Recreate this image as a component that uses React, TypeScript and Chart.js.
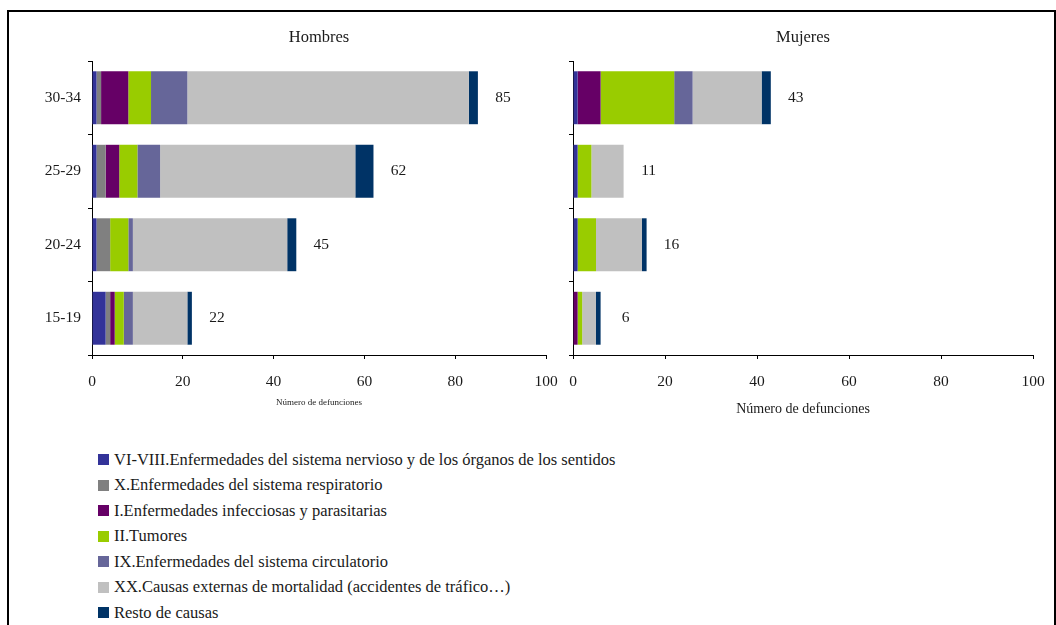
import React, { useEffect, useRef } from 'react';
import { Chart, registerables } from 'chart.js';

Chart.register(...registerables);

const ageGroups = ['30-34', '25-29', '20-24', '15-19'];

const causeLabels = [
  'VI-VIII.Enfermedades del sistema nervioso y de los órganos de los sentidos',
  'X.Enfermedades del sistema respiratorio',
  'I.Enfermedades infecciosas y parasitarias',
  'II.Tumores',
  'IX.Enfermedades del sistema circulatorio',
  'XX.Causas externas de mortalidad (accidentes de tráfico…)',
  'Resto de causas',
];

const causeColors = ['#333399', '#808080', '#660066', '#99CC00', '#666699', '#C0C0C0', '#003366'];

// Hombres (order: 30-34, 25-29, 20-24, 15-19)
const menNervous = [1, 1, 1, 3];
const menRespiratory = [1, 2, 3, 1];
const menInfectious = [6, 3, 0, 1];
const menTumors = [5, 4, 4, 2];
const menCirculatory = [8, 5, 1, 2];
const menExternal = [62, 43, 34, 12];
const menOther = [2, 4, 2, 1];

// Mujeres
const womenNervous = [1, 1, 1, 0];
const womenRespiratory = [0, 0, 0, 0];
const womenInfectious = [5, 0, 0, 1];
const womenTumors = [16, 3, 4, 1];
const womenCirculatory = [4, 0, 0, 0];
const womenExternal = [15, 7, 10, 3];
const womenOther = [2, 0, 1, 1];

const xMin = 0;
const xMax = 100;
const xStep = 20;

const menSeries = [menNervous, menRespiratory, menInfectious, menTumors, menCirculatory, menExternal, menOther];
const womenSeries = [womenNervous, womenRespiratory, womenInfectious, womenTumors, womenCirculatory, womenExternal, womenOther];

const FONT = '"Liberation Serif", "Times New Roman", serif';
const TEXT = '#1a1a1a';

type PanelOpts = {
  title: string;
  series: number[][];
  showYLabels: boolean;
  yWidth: number;
  rightPad: number;
  axisTitleSize: number;
  axisTitlePad: number;
  titleY: number;
};

function makeChart(canvas: HTMLCanvasElement, o: PanelOpts) {
  const titlePlugin = {
    id: 'panelTitle',
    afterDraw(chart: any) {
      const { ctx, chartArea } = chart;
      ctx.save();
      ctx.font = `16.5px ${FONT}`;
      ctx.fillStyle = TEXT;
      ctx.textAlign = 'center';
      ctx.textBaseline = 'middle';
      ctx.fillText(o.title, (chartArea.left + chartArea.right) / 2, o.titleY);
      ctx.restore();
    },
  };
  const totalsPlugin = {
    id: 'totals',
    afterDatasetsDraw(chart: any) {
      const { ctx } = chart;
      const xs = chart.scales.x;
      const ys = chart.scales.y;
      ctx.save();
      ctx.font = `15.5px ${FONT}`;
      ctx.fillStyle = TEXT;
      ctx.textAlign = 'center';
      ctx.textBaseline = 'middle';
      chart.data.labels.forEach((_: any, i: number) => {
        const total = chart.data.datasets.reduce((s: number, d: any) => s + d.data[i], 0);
        ctx.fillText(String(total), xs.getPixelForValue(total) + 25, ys.getPixelForValue(i));
      });
      ctx.restore();
    },
  };

  return new Chart(canvas, {
    type: 'bar',
    data: {
      labels: ageGroups,
      datasets: o.series.map((data, k) => ({
        label: causeLabels[k],
        data,
        backgroundColor: causeColors[k],
        borderWidth: 0,
        categoryPercentage: 1,
        barPercentage: 0.72,
      })),
    },
    plugins: [titlePlugin, totalsPlugin],
    options: {
      indexAxis: 'y',
      animation: false,
      responsive: false,
      maintainAspectRatio: false,
      layout: { padding: { left: 0, right: o.rightPad, top: 40, bottom: 0 } },
      plugins: {
        legend: { display: false },
        tooltip: { enabled: false },
        title: { display: false },
      },
      scales: {
        x: {
          stacked: true,
          min: xMin,
          max: xMax,
          ticks: { stepSize: xStep, font: { family: FONT, size: 15.5 }, color: TEXT, padding: 14 },
          grid: { drawOnChartArea: false, drawTicks: true, tickLength: 4, color: '#000' },
          border: { display: true, color: '#000', width: 1 },
          title: {
            display: true,
            text: 'Número de defunciones',
            font: { family: FONT, size: o.axisTitleSize },
            color: TEXT,
            padding: { top: 0, bottom: o.axisTitlePad },
          },
          afterFit: (s: any) => {
            s.height = 66;
            s.paddingLeft = 0;
            s.paddingRight = 0;
          },
        },
        y: {
          stacked: true,
          ticks: { display: o.showYLabels, font: { family: FONT, size: 15.5 }, color: TEXT, padding: 7 },
          grid: { drawOnChartArea: false, drawTicks: true, tickLength: 4, color: '#000', offset: true },
          border: { display: true, color: '#000', width: 1 },
          afterFit: (s: any) => {
            s.width = o.yWidth;
            s.paddingTop = 0;
            s.paddingBottom = 0;
          },
        },
      },
    } as any,
  });
}

export default function App() {
  const menRef = useRef<HTMLCanvasElement>(null);
  const womenRef = useRef<HTMLCanvasElement>(null);

  useEffect(() => {
    const c1 = makeChart(menRef.current!, {
      title: 'Hombres',
      series: menSeries,
      showYLabels: true,
      yWidth: 82,
      rightPad: 14,
      axisTitleSize: 9,
      axisTitlePad: 13,
      titleY: 17,
    });
    const c2 = makeChart(womenRef.current!, {
      title: 'Mujeres',
      series: womenSeries,
      showYLabels: false,
      yWidth: 13,
      rightPad: 17,
      axisTitleSize: 14,
      axisTitlePad: 3,
      titleY: 17,
    });
    return () => {
      c1.destroy();
      c2.destroy();
    };
  }, []);

  return (
    <div style={{ position: 'fixed', left: 0, top: 0, width: 1056, height: 625, overflow: 'hidden', background: '#fff' }}>
      <div
        style={{
          position: 'absolute',
          left: 7,
          top: 10,
          width: 1049,
          height: 700,
          boxSizing: 'border-box',
          border: '2px solid #000',
        }}
      />
      <canvas
        ref={menRef}
        width={550}
        height={400}
        style={{ position: 'absolute', left: 10, top: 21, width: 550, height: 400 }}
      />
      <canvas
        ref={womenRef}
        width={490}
        height={400}
        style={{ position: 'absolute', left: 560, top: 21, width: 490, height: 400 }}
      />
      <div style={{ position: 'absolute', left: 98, top: 447, fontFamily: FONT, fontSize: 16.5, color: TEXT }}>
        {causeLabels.map((label, k) => (
          <div key={k} style={{ display: 'flex', alignItems: 'center', height: 25.5, whiteSpace: 'nowrap' }}>
            <span style={{ display: 'inline-block', width: 11, height: 11, background: causeColors[k], marginRight: 5 }} />
            <span>{label}</span>
          </div>
        ))}
      </div>
    </div>
  );
}
